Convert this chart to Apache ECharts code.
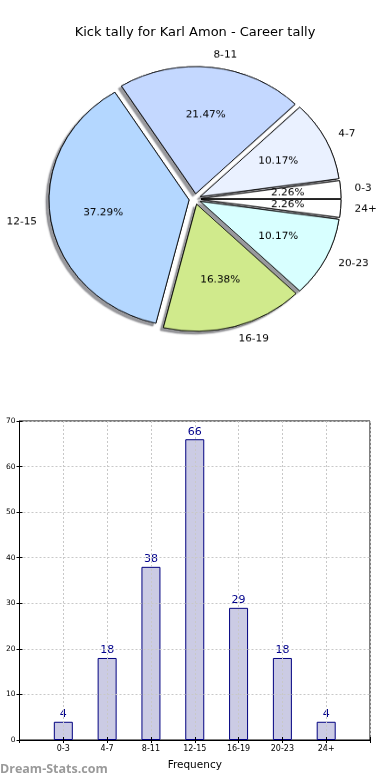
<!DOCTYPE html>
<html>
<head>
<meta charset="utf-8">
<script src="https://cdn.jsdelivr.net/npm/echarts@6/dist/echarts.min.js"></script>
<style>
html,body{margin:0;padding:0;background:#fff;}
#wrap{position:relative;width:390px;height:780px;overflow:hidden;}
#main{position:absolute;left:0;top:0;width:390px;height:780px;}
#pie{position:absolute;left:0;top:0;width:390px;height:400px;transform:scaleY(0.907);transform-origin:195px 199px;}
</style>
</head>
<body>
<div id="wrap"><div id="main"></div><div id="pie"></div></div>
<script>
const titleText = 'Kick tally for Karl Amon - Career tally';
const categories = ['0-3', '4-7', '8-11', '12-15', '16-19', '20-23', '24+'];
const counts = [4, 18, 38, 66, 29, 18, 4];
const sliceColors = ['#ffffff', '#eaf1ff', '#c4d8ff', '#b4d7ff', '#d0ea8c', '#d8ffff', '#ffffff'];
const yMin = 0, yMax = 70, yStep = 10;
const xAxisName = 'Frequency';
const watermark = 'Dream-Stats.com';

const FONT = 'DejaVu Sans';

// ---------- main chart: title + bar chart ----------
const main = echarts.init(document.getElementById('main'), null, {renderer: 'canvas'});
const catLabel = v => (Number.isInteger(v) && v >= 1 && v <= categories.length) ? categories[v - 1] : '';
const grid = {left: 19.5, right: 20, top: 421, bottom: 40, show: true, borderColor: '#000', borderWidth: 1, backgroundColor: 'transparent'};
const split = {show: true, lineStyle: {color: '#c8c8c8', width: 1, type: [2, 2]}};
main.setOption({
  animation: false,
  backgroundColor: '#fff',
  title: {text: titleText, left: 'center', top: 21, textStyle: {fontFamily: FONT, fontSize: 13, fontWeight: 'normal', color: '#000'}},
  grid: grid,
  xAxis: [{
    type: 'value', min: 0, max: categories.length + 1, interval: 1, z: 5,
    axisLine: {show: true, lineStyle: {color: '#000'}},
    axisTick: {show: true, inside: true, length: 3, lineStyle: {color: '#000'}},
    axisLabel: {formatter: catLabel, fontFamily: FONT, fontSize: 8, color: '#000', margin: 5},
    splitLine: split,
    name: xAxisName, nameLocation: 'middle', nameGap: 20,
    nameTextStyle: {fontFamily: FONT, fontSize: 10.5, color: '#000'}
  }, {
    type: 'value', position: 'top', min: 0, max: categories.length + 1, interval: 1,
    axisLine: {show: false}, axisTick: {show: true, inside: true, length: 3, lineStyle: {color: '#000'}},
    axisLabel: {show: false}, splitLine: {show: false}
  }],
  yAxis: [{
    type: 'value', min: yMin, max: yMax, interval: yStep, z: 5,
    axisLine: {show: true, lineStyle: {color: '#000'}},
    axisTick: {show: true, inside: true, length: 3, lineStyle: {color: '#000'}},
    axisLabel: {fontFamily: FONT, fontSize: 7.5, color: '#000', margin: 4},
    splitLine: split
  }, {
    type: 'value', position: 'right', min: yMin, max: yMax, interval: yStep,
    axisLine: {show: false}, axisTick: {show: true, inside: true, length: 3, lineStyle: {color: '#000'}},
    axisLabel: {show: false}, splitLine: {show: false}
  }],
  series: [{
    type: 'bar', xAxisIndex: 0, yAxisIndex: 0, z: 2,
    data: counts.map((v, i) => [i + 1, v]),
    barWidth: 19,
    itemStyle: {color: '#cbcbe4', borderColor: '#000080', borderWidth: 1},
    label: {show: true, position: 'top', distance: 2, formatter: p => p.value[1], color: '#00008b', fontFamily: FONT, fontSize: 11},
    emphasis: {disabled: true}
  }],
  graphic: [{
    type: 'text', left: 0, top: 763,
    style: {text: watermark, fill: '#9a9a9a', font: 'bold 12.5px "Open Sans", sans-serif'}
  }]
});

// ---------- pie chart (scaled vertically to an ellipse) ----------
const pie = echarts.init(document.getElementById('pie'), null, {renderer: 'canvas'});
const total = counts.reduce((a, b) => a + b, 0);
const pieData = categories.map((c, i) => ({name: c, value: counts[i], selected: true, itemStyle: {color: sliceColors[i]}}));
const common = {
  type: 'pie', center: [195, 199], startAngle: 0, clockwise: false,
  selectedMode: 'multiple', selectedOffset: 6, avoidLabelOverlap: false,
  emphasis: {disabled: true}, select: {itemStyle: {}}, animation: false, silent: true
};
pie.setOption({
  animation: false,
  series: [
    Object.assign({}, common, {
      z: 1, radius: 140, data: pieData,
      itemStyle: {borderColor: '#000', borderWidth: 1, shadowColor: 'rgba(30,30,40,0.45)', shadowBlur: 1.5, shadowOffsetX: -3, shadowOffsetY: 3},
      label: {show: false}, labelLine: {show: false}
    }),
    Object.assign({}, common, {
      z: 2, radius: 140, data: pieData,
      itemStyle: {borderColor: '#000', borderWidth: 0.8},
      label: {show: true, position: 'outside', formatter: '{b}', distanceToLabelLine: 0, fontFamily: FONT, fontSize: 10.5, color: '#000'},
      labelLine: {show: false, length: 14, length2: 0}
    }),
    Object.assign({}, common, {
      z: 3, radius: [28, 140],
      data: categories.map((c, i) => ({name: c, value: counts[i], selected: true, itemStyle: {color: 'rgba(0,0,0,0)'}})),
      itemStyle: {borderWidth: 0},
      label: {show: true, position: 'inside', formatter: p => (p.value / total * 100).toFixed(2) + '%', fontFamily: FONT, fontSize: 10.5, color: '#000'},
      labelLine: {show: false}
    })
  ]
});
</script>
</body>
</html>
